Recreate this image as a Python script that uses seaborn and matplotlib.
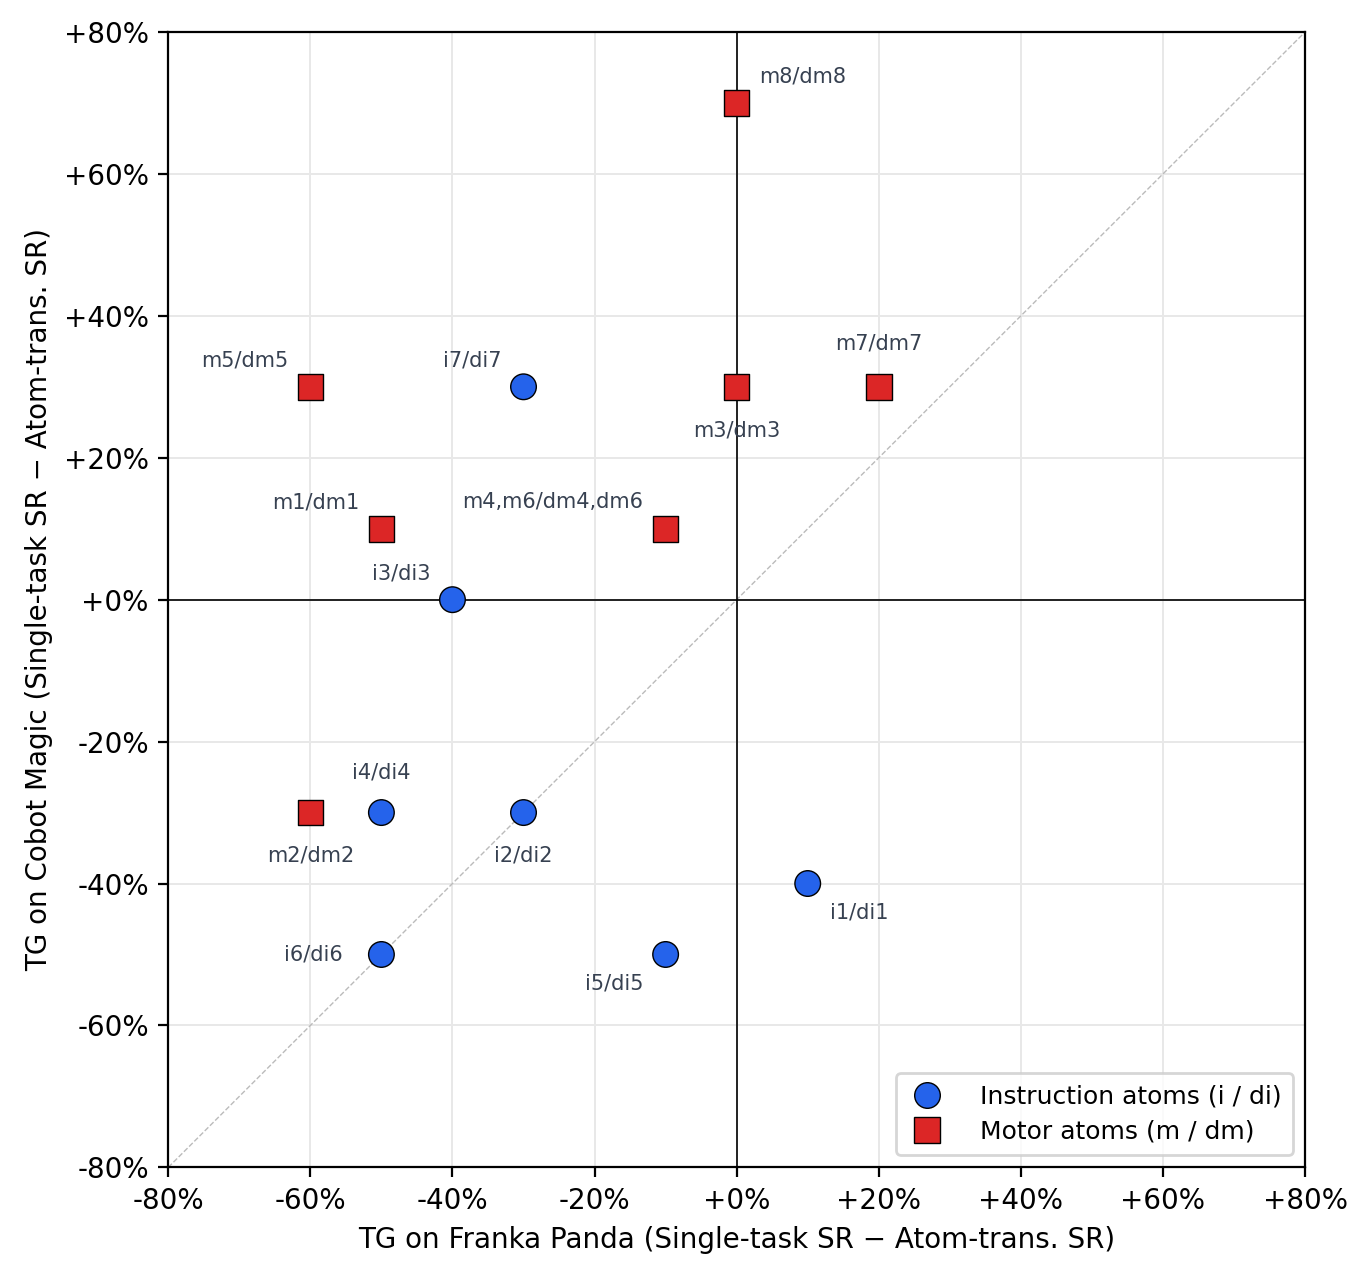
import matplotlib
matplotlib.use("Agg")
import matplotlib.pyplot as plt
import seaborn as sns
import pandas as pd

inst_labels = ["i1/di1", "i2/di2", "i3/di3", "i4/di4", "i5/di5", "i6/di6", "i7/di7"]
inst_x = [10, -30, -40, -50, -10, -50, -30]
inst_y = [-40, -30, 0, -30, -50, -50, 30]

motor_labels = ["m1/dm1", "m2/dm2", "m3/dm3", "m4,m6/dm4,dm6", "m5/dm5", "m7/dm7", "m8/dm8"]
motor_x = [-50, -60, 0, -10, -60, 20, 0]
motor_y = [10, -30, 30, 10, 30, 30, 70]

ticks = [-80, -60, -40, -20, 0, 20, 40, 60, 80]

# label placement: (dx pt, dy pt, ha, va)
place = {
    "i1/di1": (8, -7, "left", "top"),
    "i2/di2": (0, -12, "center", "top"),
    "i3/di3": (-8, 6, "right", "bottom"),
    "i4/di4": (0, 11, "center", "bottom"),
    "i5/di5": (-8, -7, "right", "top"),
    "i6/di6": (-14, 0, "right", "center"),
    "i7/di7": (-8, 6, "right", "bottom"),
    "m1/dm1": (-8, 6, "right", "bottom"),
    "m2/dm2": (0, -12, "center", "top"),
    "m3/dm3": (0, -12, "center", "top"),
    "m4,m6/dm4,dm6": (-8, 6, "right", "bottom"),
    "m5/dm5": (-8, 6, "right", "bottom"),
    "m7/dm7": (0, 12, "center", "bottom"),
    "m8/dm8": (8, 6, "left", "bottom"),
}

df = pd.DataFrame({
    "x": inst_x + motor_x,
    "y": inst_y + motor_y,
    "label": inst_labels + motor_labels,
    "group": ["Instruction atoms (i / di)"] * len(inst_x) + ["Motor atoms (m / dm)"] * len(motor_x),
})

sns.set_style("white")
plt.rcParams["text.color"] = "black"
plt.rcParams["axes.labelcolor"] = "black"
plt.rcParams["xtick.color"] = "black"
plt.rcParams["ytick.color"] = "black"

fig, ax = plt.subplots(figsize=(6.84, 6.4), dpi=200)
fig.subplots_adjust(left=0.123, right=0.954, top=0.975, bottom=0.088)

ax.grid(True, color="#e8e8e8", linewidth=0.7, zorder=0)
ax.plot([-80, 80], [-80, 80], linestyle="--", color="#bbbbbb", linewidth=0.5, zorder=1)
ax.axhline(0, color="black", linewidth=0.6, zorder=2)
ax.axvline(0, color="black", linewidth=0.6, zorder=2)

sns.scatterplot(data=df, x="x", y="y", hue="group", style="group",
                palette={"Instruction atoms (i / di)": "#2563eb", "Motor atoms (m / dm)": "#dc2626"},
                markers={"Instruction atoms (i / di)": "o", "Motor atoms (m / dm)": "s"},
                s=85, edgecolor="black", linewidth=0.5, ax=ax, zorder=3)

for lx, ly, lab in zip(df["x"], df["y"], df["label"]):
    dx, dy, ha, va = place[lab]
    ax.annotate(lab, (lx, ly), xytext=(dx, dy), textcoords="offset points",
                ha=ha, va=va, fontsize=7.5, color="#374151")

ax.set_xlim(-80, 80)
ax.set_ylim(-80, 80)
ax.set_xticks(ticks)
ax.set_yticks(ticks)
ax.set_xticklabels([f"{t:+d}%" for t in ticks], fontsize=10)
ax.set_yticklabels([f"{t:+d}%" for t in ticks], fontsize=10)
ax.tick_params(axis="both", length=3.5, width=0.8, direction="out", bottom=True, left=True, colors="black")
for sp in ax.spines.values():
    sp.set_color("black")
    sp.set_linewidth(0.8)

ax.set_xlabel("TG on Franka Panda (Single-task SR \u2212 Atom-trans. SR)", fontsize=10, color="black")
ax.set_ylabel("TG on Cobot Magic (Single-task SR \u2212 Atom-trans. SR)", fontsize=10, color="black")

leg = ax.legend(loc="lower right", fontsize=9, title=None, frameon=True, markerscale=1.0,
                labelspacing=0.45, handletextpad=1.3, borderpad=0.45, handlelength=1.6)
leg.get_frame().set_edgecolor("#cccccc")
for t in leg.get_texts():
    t.set_color("black")

fig.savefig("out.png", dpi=200)
